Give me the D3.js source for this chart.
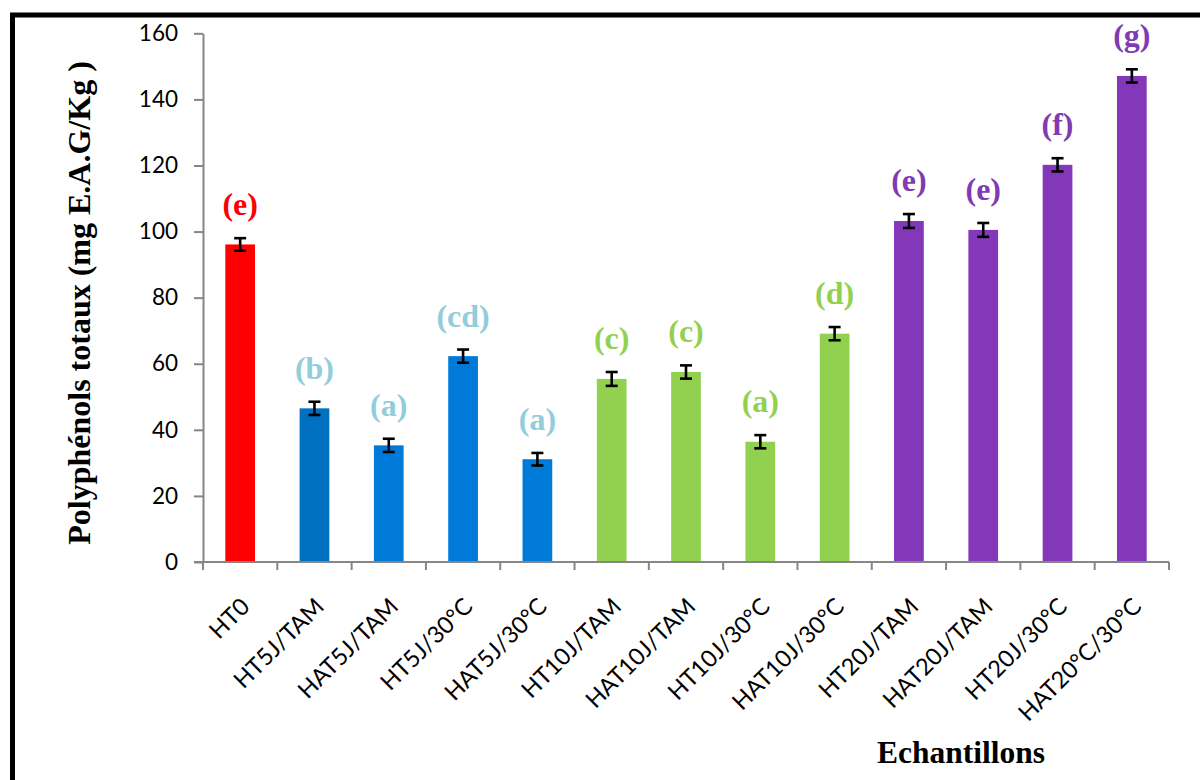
<!DOCTYPE html>
<html>
<head>
<meta charset="utf-8">
<script src="https://cdn.jsdelivr.net/npm/d3@7"></script>
<style>
  html, body { margin: 0; padding: 0; background: #fff; }
  svg { display: block; }
</style>
</head>
<body>
<svg id="chart" width="1200" height="780"></svg>
<script>
// Samples, total polyphenol content (mg GAE/kg), standard deviations and significance letters
const categories = ["HT0", "HT5J/TAM", "HAT5J/TAM", "HT5J/30°C", "HAT5J/30°C",
  "HT10J/TAM", "HAT10J/TAM", "HT10J/30°C", "HAT10J/30°C",
  "HT20J/TAM", "HAT20J/TAM", "HT20J/30°C", "HAT20°C/30°C"];
const values = [96.1, 46.5, 35.3, 62.3, 31.1, 55.4, 57.5, 36.4, 69.1, 103.2, 100.5, 120.2, 147.1];
const errors = [1.9, 2.0, 2.0, 2.0, 1.9, 2.1, 2.0, 2.0, 2.0, 2.1, 2.1, 2.0, 2.0];
const letters = ["(e)", "(b)", "(a)", "(cd)", "(a)", "(c)", "(c)", "(a)", "(d)", "(e)", "(e)", "(f)", "(g)"];
const groups = ["control", "j5a", "j5", "j5", "j5", "j10", "j10", "j10", "j10", "j20", "j20", "j20", "j20"];
const yTicks = [0, 20, 40, 60, 80, 100, 120, 140, 160];

const barColor = { control: "#FF0000", j5a: "#0070C0", j5: "#007AD8", j10: "#92D050", j20: "#8338B9" };
const letterColor = { control: "#FF0000", j5a: "#92CDDC", j5: "#92CDDC", j10: "#92D050", j20: "#7F3AB4" };

const svg = d3.select("#chart");
const axisGray = "#868686";
const sansFont = "Lato, 'Open Sans', sans-serif";
const serifFont = "'Liberation Serif', 'Times New Roman', serif";

// outer frame
svg.append("rect")
  .attr("x", 12.5).attr("y", 15)
  .attr("width", 1200).attr("height", 800)
  .attr("fill", "none").attr("stroke", "#000").attr("stroke-width", 5);

const plotLeft = 203, plotRight = 1169, plotTop = 33.3, plotBottom = 562;

const x = d3.scaleBand().domain(categories).range([plotLeft, plotRight])
  .paddingInner(0.6).paddingOuter(0.3);
const y = d3.scaleLinear().domain([0, 160]).range([plotBottom, plotTop]);

// y axis
const yAxis = svg.append("g")
  .attr("transform", `translate(${plotLeft},0)`)
  .call(d3.axisLeft(y).tickValues(yTicks).tickSize(9).tickPadding(16).tickSizeOuter(0));
yAxis.select(".domain").attr("stroke", axisGray).attr("stroke-width", 2);
yAxis.selectAll(".tick line").attr("stroke", axisGray).attr("stroke-width", 2);
yAxis.selectAll(".tick text")
  .attr("font-family", sansFont)
  .attr("font-size", 22.5).attr("fill", "#000");

// bars
svg.append("g").selectAll("rect")
  .data(categories)
  .join("rect")
  .attr("x", d => x(d))
  .attr("width", x.bandwidth())
  .attr("y", (d, i) => y(values[i]))
  .attr("height", (d, i) => y(0) - y(values[i]))
  .attr("fill", (d, i) => barColor[groups[i]]);

// x axis baseline and category separators
const xg = svg.append("g");
xg.append("line")
  .attr("x1", plotLeft - 9).attr("x2", plotRight)
  .attr("y1", plotBottom).attr("y2", plotBottom)
  .attr("stroke", axisGray).attr("stroke-width", 2);
const step = x.step();
const sepPositions = d3.range(categories.length + 1).map(i => plotLeft + i * step);
xg.selectAll("line.sep")
  .data(sepPositions)
  .join("line")
  .attr("class", "sep")
  .attr("x1", d => d).attr("x2", d => d)
  .attr("y1", plotBottom).attr("y2", plotBottom + 8)
  .attr("stroke", axisGray).attr("stroke-width", 2);

// rotated category labels
xg.selectAll("text.cat")
  .data(categories)
  .join("text")
  .attr("class", "cat")
  .attr("text-anchor", "end")
  .attr("font-family", sansFont)
  .attr("font-size", 23.5)
  .attr("fill", "#000")
  .attr("transform", d => `translate(${x(d) + x.bandwidth() / 2 + 11},${plotBottom + 46}) rotate(-45)`)
  .text(d => d);

// error bars
const eb = svg.append("g").attr("stroke", "#000").attr("stroke-width", 2.6);
categories.forEach((c, i) => {
  const cx = x(c) + x.bandwidth() / 2;
  const y1 = y(values[i] + errors[i]), y2 = y(values[i] - errors[i]);
  eb.append("line").attr("x1", cx).attr("x2", cx).attr("y1", y1).attr("y2", y2);
  eb.append("line").attr("x1", cx - 6).attr("x2", cx + 6).attr("y1", y1).attr("y2", y1);
  eb.append("line").attr("x1", cx - 6).attr("x2", cx + 6).attr("y1", y2).attr("y2", y2);
});

// significance letters
svg.append("g").selectAll("text")
  .data(categories)
  .join("text")
  .attr("x", d => x(d) + x.bandwidth() / 2)
  .attr("y", (d, i) => y(values[i] + errors[i]) - 23)
  .attr("text-anchor", "middle")
  .attr("font-family", serifFont)
  .attr("font-weight", "bold")
  .attr("font-size", 32)
  .attr("fill", (d, i) => letterColor[groups[i]])
  .text((d, i) => letters[i]);

// axis titles
svg.append("text")
  .attr("transform", "translate(90,303) rotate(-90)")
  .attr("text-anchor", "middle")
  .attr("font-family", serifFont)
  .attr("font-weight", "bold")
  .attr("font-size", 32)
  .attr("fill", "#000")
  .text("Polyphénols totaux (mg E.A.G/Kg )");

svg.append("text")
  .attr("x", 961).attr("y", 763)
  .attr("text-anchor", "middle")
  .attr("font-family", serifFont)
  .attr("font-weight", "bold")
  .attr("font-size", 31.5)
  .attr("fill", "#000")
  .text("Echantillons");
</script>
</body>
</html>
